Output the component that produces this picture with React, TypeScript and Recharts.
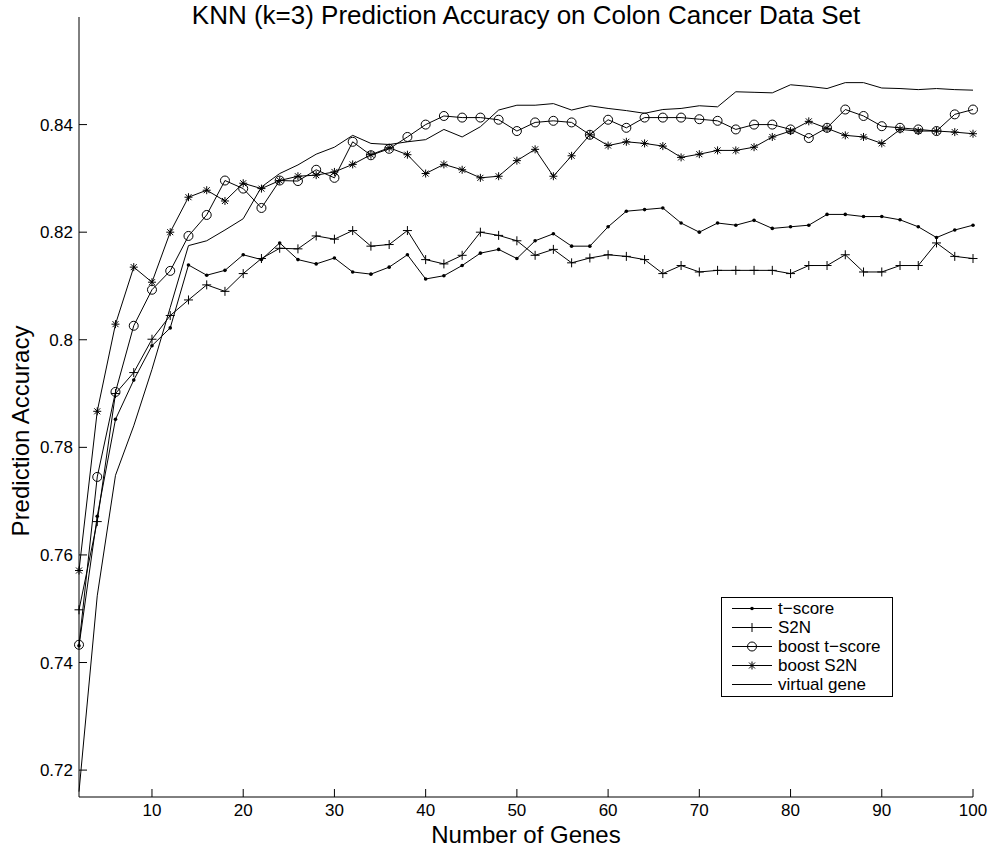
import { LineChart, Line, XAxis, YAxis, Legend } from 'recharts';

const FONT = '"Liberation Sans", Arial, Helvetica, sans-serif';

// number of genes (x axis)
const genes = [
  2, 4, 6, 8, 10, 12, 14, 16, 18, 20, 22, 24, 26, 28, 30, 32, 34, 36, 38, 40, 42, 44, 46, 48, 50,
  52, 54, 56, 58, 60, 62, 64, 66, 68, 70, 72, 74, 76, 78, 80, 82, 84, 86, 88, 90, 92, 94, 96, 98, 100,
];

const tScore = [
  0.7431, 0.7672, 0.7852, 0.7925, 0.7989, 0.8022, 0.8139, 0.812, 0.8129, 0.8158,
  0.8149, 0.818, 0.8149, 0.8141, 0.8152, 0.8126, 0.8122, 0.8135, 0.8158, 0.8113,
  0.8119, 0.8138, 0.8161, 0.8168, 0.8151, 0.8184, 0.8197, 0.8174, 0.8174, 0.821,
  0.8239, 0.8242, 0.8245, 0.8217, 0.82, 0.8217, 0.8213, 0.8222, 0.8207, 0.821,
  0.8213, 0.8233, 0.8233, 0.8229, 0.8229, 0.8223, 0.821, 0.819, 0.8204, 0.8213,
];

const s2n = [
  0.7498, 0.7662, 0.79, 0.7939, 0.8001, 0.8045, 0.8074, 0.8102, 0.809, 0.8123,
  0.8151, 0.817, 0.8169, 0.8193, 0.8187, 0.8203, 0.8174, 0.8177, 0.8203, 0.8149,
  0.8141, 0.8157, 0.82, 0.8194, 0.8184, 0.8157, 0.8168, 0.8143, 0.8152, 0.8158,
  0.8155, 0.8149, 0.8123, 0.8138, 0.8126, 0.8129, 0.8129, 0.8129, 0.8129, 0.8123,
  0.8138, 0.8138, 0.8158, 0.8126, 0.8126, 0.8138, 0.8138, 0.818, 0.8155, 0.8151,
];

const boostT = [
  0.7433, 0.7745, 0.7903, 0.8026, 0.8093, 0.8128, 0.8193, 0.8232, 0.8296, 0.8281,
  0.8245, 0.8296, 0.8295, 0.8316, 0.8301, 0.8368, 0.8343, 0.8355, 0.8377, 0.84,
  0.8416, 0.8413, 0.8413, 0.8409, 0.8388, 0.8404, 0.8407, 0.8404, 0.8381, 0.8409,
  0.8394, 0.8413, 0.8413, 0.8413, 0.841, 0.8407, 0.8391, 0.84, 0.84, 0.8391,
  0.8375, 0.8394, 0.8428, 0.8416, 0.8397, 0.8394, 0.8391, 0.8388, 0.8419, 0.8428,
];

const boostS2n = [
  0.7571, 0.7867, 0.8029, 0.8135, 0.8107, 0.82, 0.8265, 0.8278, 0.8258, 0.8291,
  0.8281, 0.8296, 0.8304, 0.8306, 0.8312, 0.8326, 0.8344, 0.8357, 0.8344, 0.8309,
  0.8326, 0.8316, 0.8301, 0.8304, 0.8333, 0.8354, 0.8304, 0.8342, 0.8381, 0.8361,
  0.8368, 0.8365, 0.836, 0.8339, 0.8345, 0.8352, 0.8352, 0.8358, 0.8377, 0.8388,
  0.8406, 0.8393, 0.838, 0.8377, 0.8365, 0.8391, 0.8388, 0.8388, 0.8386, 0.8383,
];

const virtualGene = [
  0.716, 0.7524, 0.7748, 0.784, 0.7945, 0.806, 0.8175, 0.8184, 0.8204, 0.8225,
  0.8284, 0.8309, 0.8325, 0.8345, 0.8358, 0.838, 0.8365, 0.8363, 0.8368, 0.8372,
  0.8391, 0.8377, 0.8396, 0.8427, 0.8436, 0.8436, 0.8439, 0.8427, 0.8435, 0.843,
  0.8426, 0.8421, 0.8428, 0.843, 0.8435, 0.8433, 0.8461, 0.846, 0.8459, 0.8474,
  0.8471, 0.8467, 0.8478, 0.8478, 0.8468, 0.8467, 0.8465, 0.8467, 0.8465, 0.8464,
];

const xTicks = [10, 20, 30, 40, 50, 60, 70, 80, 90, 100];
const yTicks = [0.72, 0.74, 0.76, 0.78, 0.8, 0.82, 0.84];

const data = genes.map((g, i) => ({
  genes: g,
  tScore: tScore[i],
  s2n: s2n[i],
  boostT: boostT[i],
  boostS2n: boostS2n[i],
  virtualGene: virtualGene[i],
}));

// markers
const DotMark = ({ cx, cy }: any) => <circle cx={cx} cy={cy} r={1.8} fill="#000" />;
const PlusMark = ({ cx, cy }: any) => (
  <path d={`M${cx - 4.5},${cy}H${cx + 4.5}M${cx},${cy - 4.5}V${cy + 4.5}`} stroke="#000" strokeWidth={1} fill="none" />
);
const CircleMark = ({ cx, cy }: any) => <circle cx={cx} cy={cy} r={4.5} fill="none" stroke="#000" strokeWidth={1} />;
const StarMark = ({ cx, cy }: any) => (
  <path
    d={`M${cx - 4},${cy}H${cx + 4}M${cx},${cy - 4}V${cy + 4}M${cx - 3},${cy - 3}L${cx + 3},${cy + 3}M${cx - 3},${cy + 3}L${cx + 3},${cy - 3}`}
    stroke="#000"
    strokeWidth={1}
    fill="none"
  />
);

const series = [
  { key: 'tScore', name: 't\u2212score', Marker: DotMark },
  { key: 's2n', name: 'S2N', Marker: PlusMark },
  { key: 'boostT', name: 'boost t\u2212score', Marker: CircleMark },
  { key: 'boostS2n', name: 'boost S2N', Marker: StarMark },
  { key: 'virtualGene', name: 'virtual gene', Marker: null as any },
];

const LegendBox = () => (
  <svg width={172} height={100} style={{ display: 'block' }}>
    <rect x={0.5} y={0.5} width={171} height={99} fill="#fff" stroke="#000" />
    {series.map((s, i) => {
      const y = 11.5 + i * 19;
      return (
        <g key={s.key}>
          <line x1={11} x2={51} y1={y} y2={y} stroke="#000" />
          {s.Marker && <s.Marker cx={31} cy={y} />}
          <text x={57} y={y} dy="0.35em" fontSize={17} fontFamily={FONT} fill="#000">
            {s.name}
          </text>
        </g>
      );
    })}
  </svg>
);

const fmtY = (v: number) => String(parseFloat(v.toFixed(2)));

export default function App() {
  return (
    <div style={{ position: 'absolute', left: 0, top: 0, width: 994, height: 848, background: '#fff' }}>
      <LineChart width={994} height={848} data={data} margin={{ top: 17, right: 21, bottom: 0, left: 0 }}>
        <XAxis
          dataKey="genes"
          type="number"
          domain={[2, 100]}
          ticks={xTicks}
          interval={0}
          height={51}
          stroke="#000"
          tickSize={-8}
          tickMargin={15}
          tick={{ fill: '#000', fontSize: 17, fontFamily: FONT }}
        />
        <YAxis
          type="number"
          domain={[0.715, 0.86]}
          ticks={yTicks}
          interval={0}
          width={79}
          stroke="#000"
          tickSize={-8}
          tickMargin={14}
          tickFormatter={fmtY}
          tick={{ fill: '#000', fontSize: 17, fontFamily: FONT }}
          allowDataOverflow
        />
        <Legend
          layout="vertical"
          align="center"
          verticalAlign="middle"
          content={<LegendBox />}
          wrapperStyle={{ position: 'absolute', left: 721, top: 597, width: 172, height: 100 }}
        />
        {series.map((s) => (
          <Line
            key={s.key}
            dataKey={s.key}
            name={s.name}
            stroke="#000"
            strokeWidth={1}
            isAnimationActive={false}
            dot={
              s.Marker
                ? (p: any) => <s.Marker key={`${s.key}-${p.index}`} cx={p.cx} cy={p.cy} />
                : false
            }
            activeDot={false}
          />
        ))}
      </LineChart>
      <svg width={994} height={848} style={{ position: 'absolute', left: 0, top: 0, pointerEvents: 'none' }}>
        <text x={526} y={24} textAnchor="middle" fontSize={26} fontFamily={FONT} fill="#000">
          KNN (k=3) Prediction Accuracy on Colon Cancer Data Set
        </text>
        <text x={526} y={843} textAnchor="middle" fontSize={24} fontFamily={FONT} fill="#000">
          Number of Genes
        </text>
        <text
          x={0}
          y={0}
          transform="translate(29,431) rotate(-90)"
          textAnchor="middle"
          fontSize={24}
          fontFamily={FONT}
          fill="#000"
        >
          Prediction Accuracy
        </text>
      </svg>
    </div>
  );
}
